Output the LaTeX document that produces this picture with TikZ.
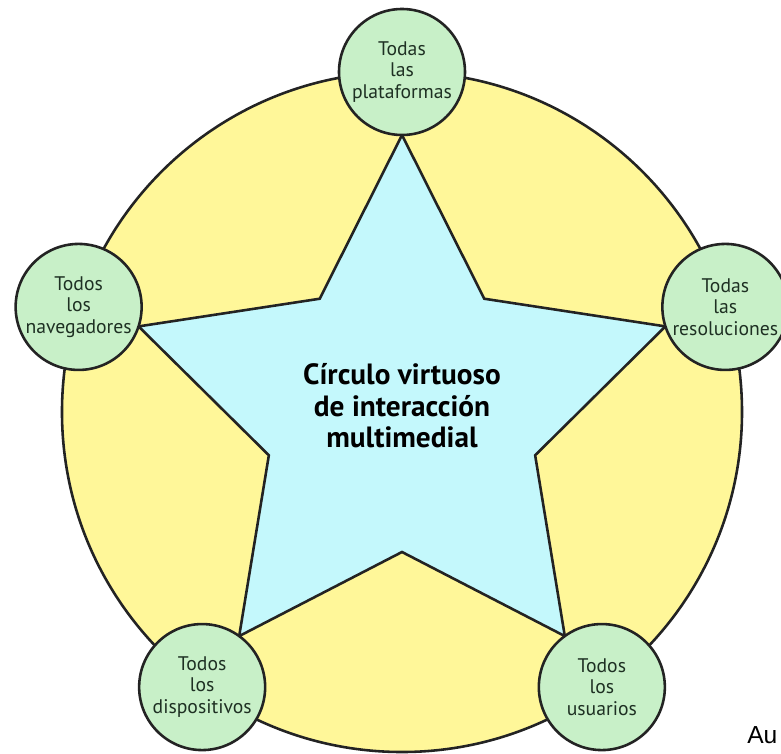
\documentclass[tikz,border=0pt]{standalone}
\usepackage{fontspec}
\setmainfont{PT Sans}
\newfontfamily\arialfont{Liberation Sans}
\definecolor{fondo}{RGB}{255,247,153}
\definecolor{estrella}{RGB}{196,248,252}
\definecolor{verdeclaro}{RGB}{200,240,200}
\definecolor{trazo}{RGB}{35,35,35}
\definecolor{letra}{RGB}{30,48,35}
\begin{document}
\begin{tikzpicture}[x=0.03cm,y=0.03cm,line width=2.2pt,
    burbuja/.style={circle,draw=trazo,fill=verdeclaro,minimum size=3.78cm,inner sep=0pt,align=center,text=letra,font=\fontsize{16.8}{18.5}\selectfont}]
        \useasboundingbox (-402,-341) rectangle (379,412);
        \draw[draw=trazo,fill=fondo] (0,0) circle (10.2cm);
        \draw[draw=trazo,fill=estrella,line join=miter] (90:277) -- (126:140) -- (162:277) -- (198:140) -- (234:277) -- (270:140) -- (306:277) -- (342:140) -- (18:277) -- (54:140) -- cycle;
        \node[burbuja] (plataformas) at (90:340) {Todas\\las\\plataformas};
        \node[burbuja] (resoluciones) at (18:340) {Todas\\las\\resoluciones};
        \node[burbuja] (usuarios) at (-54:340) {Todos\\los\\usuarios};
        \node[burbuja] (dispositivos) at (-126:340) {Todos\\los\\dispositivos};
        \node[burbuja] (navegadores) at (162:340) {Todos\\los\\navegadores};
        \node[font=\bfseries\fontsize{25}{27}\selectfont,align=center] (centro) at (0,6) {Círculo virtuoso\\de interacción\\multimedial};
        \node[anchor=base west,font=\arialfont\fontsize{21}{25}\selectfont,inner sep=0pt] (autor) at (344,-331) {Au};
    \end{tikzpicture}
\end{document}
